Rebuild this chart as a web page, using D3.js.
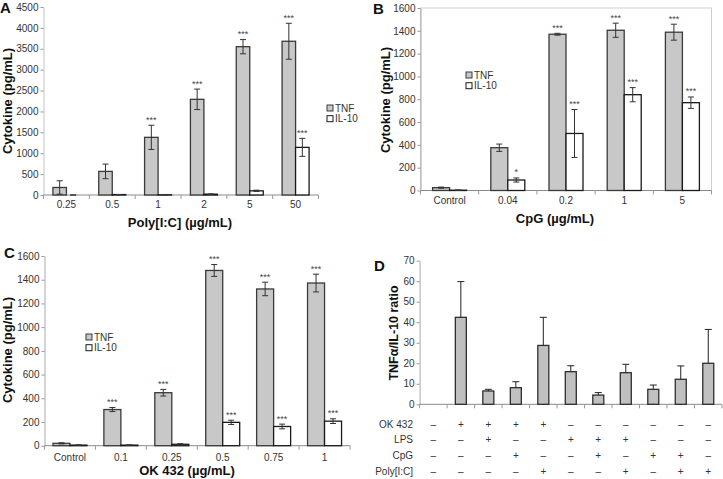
<!DOCTYPE html>
<html><head><meta charset="utf-8">
<script src="https://cdn.jsdelivr.net/npm/d3@7"></script>
<style>
body{margin:0;background:#fff}
svg{display:block;font-family:"Liberation Sans",Arial,sans-serif}
</style>
</head><body>
<svg id="chart" width="723" height="479"></svg>
<script>
// ---------- DATA ----------
// Panel A: Poly[I:C]
const catsA = ["0.25", "0.5", "1", "2", "5", "50"];
const tnfA = [180, 565, 1380, 2290, 3550, 3680];
const tnfErrA = [160, 175, 290, 245, 170, 430];
const il10A = [0, 10, 5, 20, 100, 1140];
const il10ErrA = [0, 0, 0, 5, 15, 215];
const starsTnfA = ["", "", "***", "***", "***", "***"];
const starsIl10A = ["", "", "", "", "", "***"];

// Panel B: CpG
const catsB = ["Control", "0.04", "0.2", "1", "5"];
const tnfB = [25, 375, 1370, 1405, 1388];
const tnfErrB = [5, 32, 8, 62, 70];
const il10B = [3, 92, 500, 840, 770];
const il10ErrB = [2, 18, 210, 62, 50];
const starsTnfB = ["", "", "***", "***", "***"];
const starsIl10B = ["", "*", "***", "***", "***"];

// Panel C: OK 432
const catsC = ["Control", "0.1", "0.25", "0.5", "0.75", "1"];
const tnfC = [20, 305, 447, 1478, 1322, 1372];
const tnfErrC = [5, 17, 28, 50, 57, 75];
const il10C = [5, 5, 12, 197, 162, 207];
const il10ErrC = [3, 2, 5, 18, 20, 20];
const starsTnfC = ["", "***", "***", "***", "***", "***"];
const starsIl10C = ["", "", "", "***", "***", "***"];

// Panel D: TNF/IL-10 ratio
const condD = ["c1","c2","c3","c4","c5","c6","c7","c8","c9","c10","c11"];
const ratioD = [null, 42.4, 6.5, 8.1, 28.7, 15.9, 4.5, 15.4, 7.3, 12.2, 20];
const ratioErrD = [null, 17.4, 0.8, 2.9, 13.7, 2.9, 1.2, 4.1, 2.1, 6.5, 16.5];
const rowLabelsD = ["OK 432", "LPS", "CpG", "Poly[I:C]"];
const rowOK432 = ["–","+","+","+","+","–","–","–","–","–","–"];
const rowLPS   = ["–","–","+","–","–","+","+","+","–","–","–"];
const rowCpG   = ["–","–","–","+","–","–","+","–","+","+","–"];
const rowPoly  = ["–","–","–","–","+","–","–","+","–","+","+"];

const seriesNames = ["TNF", "IL-10"];

// ---------- DRAW ----------
const svg = d3.select("#chart");
const FONT = '"Liberation Sans", Arial, sans-serif';

function styleAxisText(sel, size, color) {
  sel.selectAll("text").attr("font-size", size).attr("fill", color).style("font-family", FONT);
}

function grouped(o) {
  const g = svg.append("g");
  const x = d3.scaleBand().domain(o.cats).range(o.xr);
  const y = d3.scaleLinear().domain([0, o.yMax]).range(o.yr);
  if (o.frame) {
    g.append("rect").attr("x", o.xr[0]).attr("y", o.yr[1])
      .attr("width", o.xr[1] - o.xr[0]).attr("height", o.yr[0] - o.yr[1])
      .attr("fill", "none").attr("stroke", "#cfcfcf").attr("stroke-width", 1);
  }
  const ya = g.append("g").attr("transform", `translate(${o.xr[0]},0)`)
    .call(d3.axisLeft(y).tickValues(d3.range(0, o.yMax + 1, o.yStep))
      .tickSize(3).tickSizeOuter(0).tickPadding(2).tickFormat(d3.format("d")));
  ya.select(".domain").attr("stroke", o.yAxisColor);
  ya.selectAll(".tick line").attr("stroke", "#999");
  styleAxisText(ya, 10, "#333");

  // x axis
  const y0 = y(0);
  g.append("line").attr("x1", o.xr[0]).attr("x2", o.xr[1]).attr("y1", y0).attr("y2", y0)
    .attr("stroke", "#8a8a8a").attr("stroke-width", 1);
  const bounds = o.cats.map(c => x(c)).concat([o.xr[1]]);
  g.selectAll(null).data(bounds).enter().append("line")
    .attr("x1", d => d).attr("x2", d => d).attr("y1", y0).attr("y2", y0 + 4)
    .attr("stroke", "#999");
  g.selectAll(null).data(o.cats).enter().append("text")
    .attr("x", c => x(c) + x.bandwidth() / 2).attr("y", o.labelY)
    .attr("text-anchor", "middle").attr("font-size", 10).attr("fill", "#333").text(c => c);

  const n = o.series.length;
  o.series.forEach((s, i) => {
    const bx = c => x(c) + x.bandwidth() / 2 + (i - n / 2) * o.barW;
    g.selectAll(null).data(o.cats).enter().append("rect")
      .attr("x", bx).attr("y", (c, j) => y(s.vals[j]))
      .attr("width", o.barW).attr("height", (c, j) => y0 - y(s.vals[j]))
      .attr("fill", s.fill).attr("stroke", s.stroke).attr("stroke-width", 1.3);
    // error bars
    const eg = g.selectAll(null).data(o.cats).enter().append("g")
      .attr("stroke", "#333").attr("stroke-width", 1);
    eg.append("line").attr("x1", c => bx(c) + o.barW / 2).attr("x2", c => bx(c) + o.barW / 2)
      .attr("y1", (c, j) => y(Math.max(0, s.vals[j] - s.errs[j])))
      .attr("y2", (c, j) => y(s.vals[j] + s.errs[j]));
    eg.append("line").attr("x1", c => bx(c) + o.barW / 2 - 3).attr("x2", c => bx(c) + o.barW / 2 + 3)
      .attr("y1", (c, j) => y(s.vals[j] + s.errs[j])).attr("y2", (c, j) => y(s.vals[j] + s.errs[j]));
    eg.append("line").attr("x1", c => bx(c) + o.barW / 2 - 3).attr("x2", c => bx(c) + o.barW / 2 + 3)
      .attr("y1", (c, j) => y(Math.max(0, s.vals[j] - s.errs[j])))
      .attr("y2", (c, j) => y(Math.max(0, s.vals[j] - s.errs[j])));
    // stars
    g.selectAll(null).data(o.cats).enter().append("text")
      .attr("x", c => bx(c) + o.barW / 2)
      .attr("y", (c, j) => y(s.vals[j] + s.errs[j]) - 2.5)
      .attr("text-anchor", "middle").attr("font-size", 9).attr("fill", "#444")
      .text((c, j) => s.stars[j]);
  });

  // legend
  o.series.forEach((s, i) => {
    const ly = o.legend[1] + i * 10.7;
    g.append("rect").attr("x", o.legend[0]).attr("y", ly - 3).attr("width", 6).attr("height", 6)
      .attr("fill", s.fill).attr("stroke", s.stroke).attr("stroke-width", 1);
    g.append("text").attr("x", o.legend[0] + 8).attr("y", ly + 3.6)
      .attr("font-size", 10).attr("fill", "#333").text(seriesNames[i]);
  });

  // titles
  g.append("text").attr("x", o.xTitle[0]).attr("y", o.xTitle[1]).attr("text-anchor", "middle")
    .attr("font-size", 13).attr("font-weight", "bold").attr("fill", "#111").text(o.xLabel);
  g.append("text").attr("transform", `translate(${o.yTitle[0]},${o.yTitle[1]}) rotate(-90)`)
    .attr("text-anchor", "middle").attr("font-size", 13).attr("font-weight", "bold")
    .attr("fill", "#111").text("Cytokine (pg/mL)");
  g.append("text").attr("x", o.letter[0]).attr("y", o.letter[1])
    .attr("font-size", 15).attr("font-weight", "bold").attr("fill", "#111").text(o.letterText);
}

const tnfStyle = { fill: "#c8c8c8", stroke: "#3a3a3a" };
const il10Style = { fill: "#ffffff", stroke: "#1a1a1a" };

grouped({
  cats: catsA, yMax: 4500, yStep: 500, xr: [43.5, 318.5], yr: [195, 7], barW: 13.5,
  yAxisColor: "#c4c4c4", frame: false, labelY: 208,
  series: [
    Object.assign({ vals: tnfA, errs: tnfErrA, stars: starsTnfA }, tnfStyle),
    Object.assign({ vals: il10A, errs: il10ErrA, stars: starsIl10A }, il10Style)
  ],
  legend: [327, 108], xTitle: [180, 227], yTitle: [12, 101], xLabel: "Poly[I:C] (µg/mL)",
  letter: [0, 13], letterText: "A"
});

grouped({
  cats: catsB, yMax: 1600, yStep: 200, xr: [420.5, 711.5], yr: [190.5, 8], barW: 17,
  yAxisColor: "#aaaaaa", frame: true, labelY: 204,
  series: [
    Object.assign({ vals: tnfB, errs: tnfErrB, stars: starsTnfB }, tnfStyle),
    Object.assign({ vals: il10B, errs: il10ErrB, stars: starsIl10B }, il10Style)
  ],
  legend: [466, 75], xTitle: [555, 223], yTitle: [390, 100], xLabel: "CpG (µg/mL)",
  letter: [373, 14], letterText: "B"
});

grouped({
  cats: catsC, yMax: 1600, yStep: 200, xr: [44.5, 350], yr: [445.7, 256], barW: 17,
  yAxisColor: "#aaaaaa", frame: false, labelY: 460.5,
  series: [
    Object.assign({ vals: tnfC, errs: tnfErrC, stars: starsTnfC }, tnfStyle),
    Object.assign({ vals: il10C, errs: il10ErrC, stars: starsIl10C }, il10Style)
  ],
  legend: [86, 337], xTitle: [187, 475], yTitle: [12, 350], xLabel: "OK 432 (µg/mL)",
  letter: [4, 258], letterText: "C"
});

// Panel D
(function () {
  const g = svg.append("g");
  const xr = [419.6, 722], yr = [404.3, 260.7];
  const x = d3.scaleBand().domain(condD).range(xr);
  const y = d3.scaleLinear().domain([0, 70]).range(yr);
  const ya = g.append("g").attr("transform", `translate(${xr[0]},0)`)
    .call(d3.axisLeft(y).tickValues(d3.range(0, 71, 10)).tickSize(3).tickSizeOuter(0).tickPadding(2));
  ya.select(".domain").attr("stroke", "#aaaaaa");
  ya.selectAll(".tick line").attr("stroke", "#999");
  styleAxisText(ya, 10, "#333");
  const y0 = y(0);
  g.append("line").attr("x1", xr[0]).attr("x2", xr[1]).attr("y1", y0).attr("y2", y0).attr("stroke", "#8a8a8a");
  g.selectAll(null).data(condD.map(c => x(c)).concat([xr[1]])).enter().append("line")
    .attr("x1", d => d).attr("x2", d => d).attr("y1", y0).attr("y2", y0 + 4).attr("stroke", "#999");
  const bw = 11;
  const cx = c => x(c) + x.bandwidth() / 2;
  const data = condD.map((c, j) => ({ c, v: ratioD[j], e: ratioErrD[j] })).filter(d => d.v != null);
  g.selectAll(null).data(data).enter().append("rect")
    .attr("x", d => cx(d.c) - bw / 2).attr("y", d => y(d.v)).attr("width", bw)
    .attr("height", d => y0 - y(d.v)).attr("fill", "#c0c0c0").attr("stroke", "#2e2e2e").attr("stroke-width", 1.3);
  const eg = g.selectAll(null).data(data).enter().append("g").attr("stroke", "#222");
  eg.append("line").attr("x1", d => cx(d.c)).attr("x2", d => cx(d.c)).attr("y1", d => y(d.v)).attr("y2", d => y(d.v + d.e));
  eg.append("line").attr("x1", d => cx(d.c) - 3.5).attr("x2", d => cx(d.c) + 3.5).attr("y1", d => y(d.v + d.e)).attr("y2", d => y(d.v + d.e));

  const rows = [rowOK432, rowLPS, rowCpG, rowPoly];
  const rowY = d3.scalePoint().domain(rowLabelsD).range([427.5, 474.5]);
  rowLabelsD.forEach((lab, r) => {
    g.append("text").attr("x", 413).attr("y", rowY(lab)).attr("text-anchor", "end")
      .attr("font-size", 10).attr("fill", "#333").text(lab);
    g.selectAll(null).data(condD).enter().append("text")
      .attr("x", c => cx(c)).attr("y", rowY(lab)).attr("text-anchor", "middle")
      .attr("font-size", 10).attr("fill", "#333").text((c, j) => rows[r][j]);
  });
  g.append("text").attr("transform", `translate(398,333) rotate(-90)`)
    .attr("text-anchor", "middle").attr("font-size", 12.5).attr("font-weight", "bold").attr("fill", "#111")
    .text("TNFα/IL-10 ratio");
  g.append("text").attr("x", 374).attr("y", 271).attr("font-size", 15).attr("font-weight", "bold")
    .attr("fill", "#111").text("D");
})();
</script>
</body></html>
